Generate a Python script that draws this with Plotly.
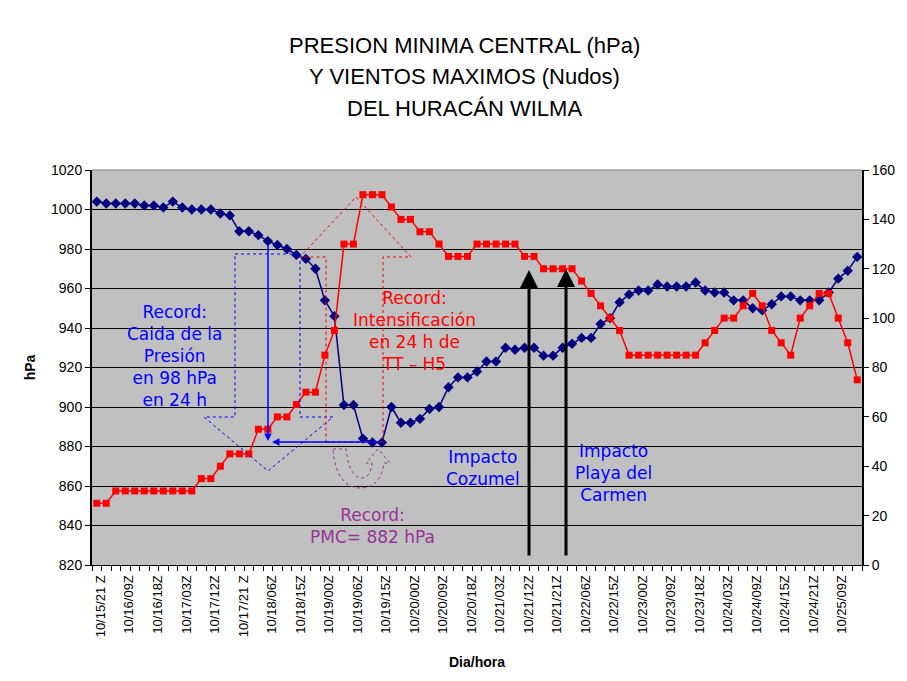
import re
import plotly.graph_objects as go

# ---------------- data ----------------
TICK_LABELS = ["10/15/21 Z", "10/16/09Z", "10/16/18Z", "10/17/03Z", "10/17/12Z",
               "10/17/21 Z", "10/18/06Z", "10/18/15Z", "10/19/00Z", "10/19/06Z",
               "10/19/15Z", "10/20/00Z", "10/20/09Z", "10/20/18Z", "10/21/03Z",
               "10/21/12Z", "10/21/21Z", "10/22/06Z", "10/22/15Z", "10/23/00Z",
               "10/23/09Z", "10/23/18Z", "10/24/03Z", "10/24/09Z", "10/24/15Z",
               "10/24/21Z", "10/25/09Z"]
LABEL_EVERY = 3

PRESSURE_HPA = [1004, 1003, 1003, 1003, 1003, 1002, 1002, 1001, 1004, 1001,
                1000, 1000, 1000, 998, 997, 989, 989, 987, 984, 982,
                980, 977, 975, 970, 954, 946, 901, 901, 884, 882,
                882, 900, 892, 892, 894, 899, 900, 910, 915, 915,
                918, 923, 923, 930, 929, 930, 930, 926, 926, 930,
                932, 935, 935, 942, 945, 953, 957, 959, 959, 962,
                961, 961, 961, 963, 959, 958, 958, 954, 954, 950,
                949, 952, 956, 956, 954, 954, 954, 958, 965, 969,
                976]

WIND_KT = [25, 25, 30, 30, 30, 30, 30, 30, 30, 30,
           30, 35, 35, 40, 45, 45, 45, 55, 55, 60,
           60, 65, 70, 70, 85, 95, 130, 130, 150, 150,
           150, 145, 140, 140, 135, 135, 130, 125, 125, 125,
           130, 130, 130, 130, 130, 125, 125, 120, 120, 120,
           120, 115, 110, 105, 100, 95, 85, 85, 85, 85,
           85, 85, 85, 85, 90, 95, 100, 100, 105, 110,
           105, 95, 90, 85, 100, 105, 110, 110, 100, 90,
           75]

TITLE_LINES = ["PRESION MINIMA CENTRAL (hPa)", "Y VIENTOS MAXIMOS (Nudos)", "DEL HURACÁN WILMA"]

# ---------------- geometry helpers ----------------
W, H = 907, 681
PL, PR, PT, PB = 92, 862, 170, 565
N = len(PRESSURE_HPA)
P_MIN, P_MAX = 820, 1020
K_MIN, K_MAX = 0, 160


def dx(px):
    return (px - PL) / (PR - PL) * N - 0.5


def dy(py):
    return P_MAX - (py - PT) / (PB - PT) * (P_MAX - P_MIN)


def fx(px):
    return (px - PL) / (PR - PL)


def fy(py):
    return (PB - py) / (PB - PT)


def path_px(s):
    def rep(m):
        return f"{dx(float(m.group(1))):.4f},{dy(float(m.group(2))):.4f}"
    return re.sub(r"(-?\d+\.?\d*),(-?\d+\.?\d*)", rep, s)


xs = list(range(N))

fig = go.Figure()
fig.add_trace(go.Scatter(
    x=xs, y=PRESSURE_HPA, mode="lines+markers", yaxis="y",
    line=dict(color="#000080", width=1.5),
    marker=dict(symbol="diamond", size=8, color="#000080"),
    name="Presión"))
fig.add_trace(go.Scatter(
    x=xs, y=WIND_KT, mode="lines+markers", yaxis="y2",
    line=dict(color="#FF0000", width=1.5),
    marker=dict(symbol="square", size=7, color="#FF0000"),
    name="Vientos"))

SANS = "Liberation Sans, Arial"
ANN_FONT = "DejaVu Sans"

fig.update_layout(
    width=W, height=H,
    margin=dict(l=PL, r=W - PR, t=PT, b=H - PB, pad=0),
    paper_bgcolor="white", plot_bgcolor="#C0C0C0",
    showlegend=False,
    xaxis=dict(
        range=[-0.5, N - 0.5],
        tickmode="array",
        tickvals=list(range(0, N, LABEL_EVERY))[:len(TICK_LABELS)],
        ticktext=TICK_LABELS,
        tickangle=-90, ticks="", showgrid=False, zeroline=False,
        showline=True, linecolor="black", linewidth=1,
        tickfont=dict(family=SANS, size=13, color="black"),
        ticklabelshift=4, ticklabelstandoff=4,
        minor=dict(ticks="outside", ticklen=5, tickcolor="black", tickwidth=1,
                   tick0=-0.5, dtick=1, showgrid=False),
        title=dict(text="<b>Dia/hora</b>", font=dict(family=SANS, size=14, color="black"),
                   standoff=20),
    ),
    yaxis=dict(
        range=[P_MIN, P_MAX], dtick=20, tick0=820,
        showgrid=True, gridcolor="black", gridwidth=1.2,
        zeroline=False, ticks="outside", ticklen=5, tickcolor="black",
        showline=True, linecolor="black", linewidth=2,
        tickfont=dict(family=SANS, size=14, color="black"),
        title=dict(text="<b>hPa</b>", font=dict(family=SANS, size=14, color="black"),
                   standoff=12),
    ),
    yaxis2=dict(
        range=[K_MIN, K_MAX], dtick=20, overlaying="y", side="right",
        showgrid=False, zeroline=False, ticks="outside", ticklen=5, tickcolor="black",
        showline=True, linecolor="black", linewidth=2,
        tickfont=dict(family=SANS, size=14, color="black"),
    ),
)

shapes = []
# top border of plot area
shapes.append(dict(type="line", xref="paper", yref="paper", x0=0, x1=1, y0=1, y1=1,
                   line=dict(color="#808080", width=1)))
# blue dotted block arrow (down)
shapes.append(dict(type="path", xref="x", yref="y", layer="above",
                   path=path_px("M 235,254 L 300,254 L 300,417 L 333,417 L 268,471 L 204,417 L 235,417 Z"),
                   line=dict(color="#0000FF", width=1, dash="dot")))
# red dotted block arrow (up)
shapes.append(dict(type="path", xref="x", yref="y", layer="above",
                   path=path_px("M 326,442 L 383,442 L 383,257 L 411,257 L 356,197 L 300,257 L 326,257 Z"),
                   line=dict(color="#FF0000", width=1, dash="dot")))
# purple dotted U-turn arrow
shapes.append(dict(type="path", xref="x", yref="y", layer="above",
                   path=path_px("M 333,449 L 346,449 C 348,470 355,478 362,478 C 368,478 371,472 372,463 "
                                "L 366,463 L 378,449 L 390,463 L 384,463 C 382,478 375,488 360,488 "
                                "C 345,488 335,475 333,449 Z"),
                   line=dict(color="#993399", width=1, dash="dot")))
fig.update_layout(shapes=shapes)

anns = []
# title
for line, py in zip(TITLE_LINES, [45, 76, 108]):
    anns.append(dict(text=line, xref="paper", yref="paper", x=fx(464), y=fy(py),
                     xanchor="center", yanchor="middle", showarrow=False,
                     font=dict(family=SANS, size=22, color="black")))


def arrow(hx, hy, tx, ty, color, width, head=2, size=1.0):
    return dict(x=dx(hx), y=dy(hy), ax=dx(tx), ay=dy(ty), xref="x", yref="y",
                axref="x", ayref="y", text="", showarrow=True, arrowhead=head,
                arrowsize=size, arrowwidth=width, arrowcolor=color, standoff=0, startstandoff=0)


anns.append(arrow(268, 441, 268, 242, "#0000FF", 1.5))
anns.append(arrow(272, 442, 382, 442, "#0000FF", 1.5))
anns.append(arrow(529, 270, 529, 557, "black", 3, head=2, size=1.2))
anns.append(arrow(566, 269, 566, 557, "black", 3, head=2, size=1.2))


def text_ann(text, px, py, color, size=17):
    return dict(text=text, xref="paper", yref="paper", x=fx(px), y=fy(py),
                xanchor="center", yanchor="middle", showarrow=False, align="center",
                font=dict(family=ANN_FONT, size=size, color=color))


anns.append(text_ann("Record:<br>Caida de la<br>Presión<br>en 98 hPa<br>en 24 h", 174, 356, "#0000FF"))
anns.append(text_ann("Record:<br>Intensificación<br>en 24 h de<br>TT – H5", 414, 331, "#FF0000"))
anns.append(text_ann("Record:<br>PMC= 882 hPa", 372, 526, "#993399"))
anns.append(text_ann("Impacto<br>Cozumel", 483, 468, "#0000FF"))
anns.append(text_ann("Impacto<br>Playa del<br>Carmen", 613, 473, "#0000FF"))

fig.update_layout(annotations=anns)

fig.write_html("out.html", config={"displayModeBar": False},
               post_script="document.body.style.margin='0';")
